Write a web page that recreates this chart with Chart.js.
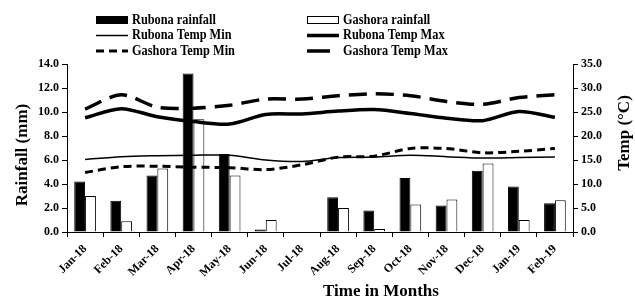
<!DOCTYPE html>
<html>
<head>
<meta charset="utf-8">
<script src="https://cdn.jsdelivr.net/npm/chart.js@4"></script>
<style>
  html, body { margin: 0; padding: 0; background: #fff; }
</style>
</head>
<body>
<canvas id="rainChart" width="635" height="300"></canvas>
<script>
// DATA
const months = ["Jan-18", "Feb-18", "Mar-18", "Apr-18", "May-18", "Jun-18", "Jul-18",
  "Aug-18", "Sep-18", "Oct-18", "Nov-18", "Dec-18", "Jan-19", "Feb-19"];
const rubonaRain = [4.2, 2.6, 4.7, 13.2, 6.5, 0.2, 0.05, 2.9, 1.8, 4.5, 2.2, 5.1, 3.8, 2.4];
const gashoraRain = [3.0, 0.9, 5.3, 9.4, 4.7, 1.0, 0.0, 2.0, 0.25, 2.3, 2.7, 5.7, 1.0, 2.65];
const rubonaMin = [15.1, 15.7, 15.9, 16.0, 16.0, 15.0, 14.7, 15.5, 15.6, 16.0, 15.7, 15.4, 15.5, 15.6];
const rubonaMax = [23.8, 25.7, 24.0, 23.0, 22.5, 24.5, 24.6, 25.2, 25.5, 24.7, 23.7, 23.2, 25.1, 23.9];
const gashoraMin = [12.4, 13.6, 13.7, 13.5, 13.4, 13.0, 14.0, 15.6, 15.8, 17.4, 17.4, 16.5, 16.8, 17.4];
const gashoraMax = [25.6, 28.6, 26.0, 25.8, 26.4, 27.7, 27.7, 28.4, 28.8, 28.4, 27.2, 26.6, 28.0, 28.6];

const serif = "'Liberation Serif', 'Times New Roman', serif";

// LEGEND + AXIS TITLES (drawn by hand so they sit where the original has them)
const extras = {
  id: "extras",
  afterDraw(chart) {
    const ctx = chart.ctx;
    ctx.save();
    ctx.fillStyle = "#000";
    ctx.strokeStyle = "#000";

    // legend, two columns
    chart.data.datasets.forEach((d, i) => {
      const col = i % 2;
      const row = Math.floor(i / 2);
      const x = col ? 307 : 96;
      const y = 20 + row * 15.5;
      const w = 32;
      if (d.type === "bar") {
        ctx.fillStyle = d.backgroundColor;
        ctx.fillRect(x, y - 4, w, 8);
        ctx.lineWidth = 1;
        ctx.strokeRect(x + 0.5, y - 3.5, w - 1, 7);
      } else {
        ctx.lineWidth = d.borderWidth;
        ctx.setLineDash(d.legendDash || d.borderDash || []);
        ctx.beginPath();
        ctx.moveTo(x, y);
        ctx.lineTo(x + w, y);
        ctx.stroke();
        ctx.setLineDash([]);
      }
      ctx.fillStyle = "#000";
      ctx.save();
      ctx.translate(x + w + 4, y);
      ctx.scale(0.88, 1);
      ctx.font = "bold 14px " + serif;
      ctx.textBaseline = "middle";
      ctx.fillText(d.label, 0, 0);
      ctx.restore();
    });

    // axis titles
    ctx.font = "bold 17px " + serif;
    ctx.textAlign = "center";
    ctx.textBaseline = "middle";
    ctx.fillText("Time in Months", 381, 292);

    ctx.save();
    ctx.translate(23, 155);
    ctx.rotate(-Math.PI / 2);
    ctx.fillText("Rainfall (mm)", 0, 0);
    ctx.restore();

    ctx.save();
    ctx.translate(625, 133);
    ctx.rotate(-Math.PI / 2);
    ctx.fillText("Temp (\u00B0C)", 0, 0);
    ctx.restore();

    ctx.restore();
  }
};

const ctx = document.getElementById("rainChart").getContext("2d");

new Chart(ctx, {
  data: {
    labels: months,
    datasets: [
      {
        type: "bar", label: "Rubona rainfall", data: rubonaRain, yAxisID: "y",
        backgroundColor: "#000", borderColor: "#000", borderWidth: 1, order: 2
      },
      {
        type: "bar", label: "Gashora rainfall", data: gashoraRain, yAxisID: "y",
        backgroundColor: "#fff", borderColor: "#000", borderWidth: 1, order: 2
      },
      {
        type: "line", label: "Rubona Temp Min", data: rubonaMin, yAxisID: "y2",
        borderColor: "#000", borderWidth: 1.5, pointRadius: 0, tension: 0.3, order: 1
      },
      {
        type: "line", label: "Rubona Temp Max", data: rubonaMax, yAxisID: "y2",
        borderColor: "#000", borderWidth: 3.5, pointRadius: 0, tension: 0.3, order: 1
      },
      {
        type: "line", label: "Gashora Temp Min", data: gashoraMin, yAxisID: "y2",
        borderColor: "#000", borderWidth: 3, borderDash: [8, 5], pointRadius: 0, tension: 0.3, order: 1
      },
      {
        type: "line", label: "Gashora Temp Max", data: gashoraMax, yAxisID: "y2",
        borderColor: "#000", borderWidth: 3.5, borderDash: [18, 9], legendDash: [23, 20],
        pointRadius: 0, tension: 0.3, order: 1
      }
    ]
  },
  options: {
    responsive: false,
    animation: false,
    layout: { padding: { top: 64, left: 0, right: 0, bottom: 0 } },
    datasets: { bar: { categoryPercentage: 0.6, barPercentage: 1.0 } },
    plugins: { legend: { display: false }, tooltip: { enabled: false } },
    scales: {
      x: {
        offset: true,
        border: { color: "#000", width: 1 },
        grid: { drawOnChartArea: false, drawTicks: true, tickLength: 5, color: "#000", offset: true },
        ticks: {
          color: "#000", maxRotation: 45, minRotation: 45, autoSkip: false, padding: 5,
          font: { family: serif, size: 12, weight: "bold" }
        },
        afterFit(s) { s.height = 68; }
      },
      y: {
        position: "left", min: 0, max: 14,
        border: { color: "#000", width: 1 },
        grid: { drawOnChartArea: false, drawTicks: true, tickLength: 5, color: "#000" },
        ticks: {
          stepSize: 2, color: "#000", padding: 3,
          font: { family: serif, size: 12, weight: "bold" },
          callback: v => v.toFixed(1)
        },
        afterFit(s) { s.width = 67; }
      },
      y2: {
        position: "right", min: 0, max: 35,
        border: { color: "#000", width: 1 },
        grid: { drawOnChartArea: false, drawTicks: true, tickLength: 5, color: "#000" },
        ticks: {
          stepSize: 5, color: "#000", padding: 3,
          font: { family: serif, size: 12, weight: "bold" },
          callback: v => v.toFixed(1)
        },
        afterFit(s) { s.width = 62; }
      }
    }
  },
  plugins: [extras]
});
</script>
</body>
</html>
